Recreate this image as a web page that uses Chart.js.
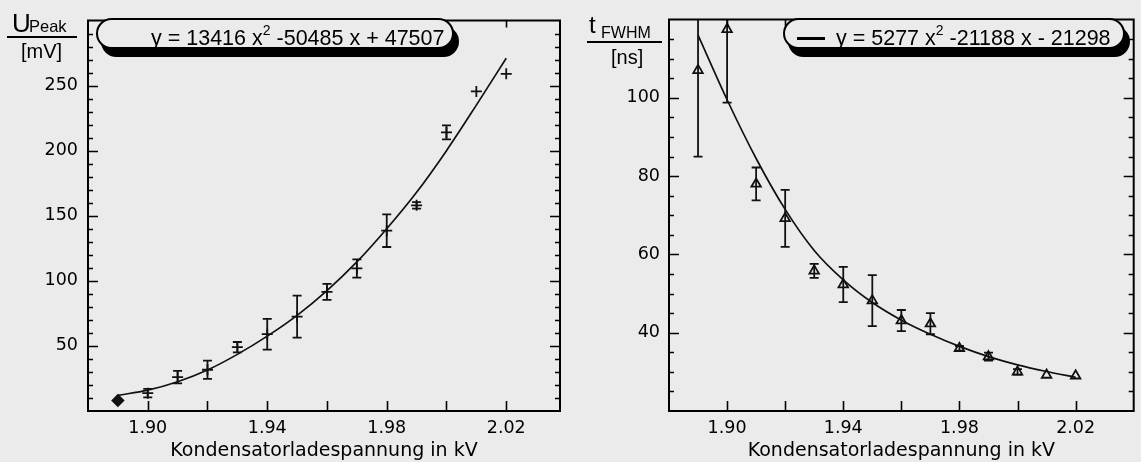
<!DOCTYPE html>
<html>
<head>
<meta charset="utf-8">
<script src="https://cdn.jsdelivr.net/npm/chart.js@4/dist/chart.umd.min.js"></script>
<style>
  body { margin: 0; width: 1141px; height: 462px; overflow: hidden; position: relative;
         background: #ebebeb; font-family: "Liberation Sans", Arial, sans-serif; color: #000; }
  canvas { position: absolute; top: 0; }
  #leftChart { left: 0; }
  #rightChart { left: 570px; }
  .lbl { position: absolute; white-space: nowrap; }
  .bar { position: absolute; height: 2px; background: #000; }
  .eq { position: absolute; box-sizing: border-box; height: 31px; border: 2px solid #000;
        border-radius: 16px; box-shadow: 5px 8px 0 #000; background: #ebebeb;
        font-size: 21.5px; line-height: 25px; white-space: nowrap; }
  .eq sup { font-size: 14px; position: relative; top: -2px; }
  .sample { display: inline-block; width: 28px; height: 3px; background: #000;
            vertical-align: middle; margin: 0 11px 0 12px; position: relative; top: -1px; }
</style>
</head>
<body>
<canvas id="leftChart" width="570" height="462"></canvas>
<canvas id="rightChart" width="571" height="462"></canvas>

<!-- y axis units -->
<div class="lbl" style="left:12px;top:10px;font-size:26px;line-height:26px">U</div>
<div class="lbl" style="left:29px;top:18px;font-size:16.5px;line-height:16px">Peak</div>
<div class="bar" style="left:7px;top:36px;width:70px"></div>
<div class="lbl" style="left:21px;top:41px;font-size:20px;line-height:20px">[mV]</div>

<div class="lbl" style="left:589px;top:13px;font-size:24px;line-height:24px">t</div>
<div class="lbl" style="left:601px;top:25px;font-size:16px;line-height:16px">FWHM</div>
<div class="bar" style="left:587px;top:41px;width:75px"></div>
<div class="lbl" style="left:611px;top:47px;font-size:20px;line-height:20px">[ns]</div>

<!-- fit equations -->
<div class="eq" style="left:96px;top:18px;width:358px;padding-left:53px">y = 13416 x<sup>2</sup> -50485 x + 47507</div>
<div class="eq" style="left:783px;top:18px;width:342px"><span class="sample"></span>y = 5277 x<sup>2</sup> -21188 x - 21298</div>

<script>
// charging voltage in kV (same for both panels)
const voltage = [1.89, 1.90, 1.91, 1.92, 1.93, 1.94, 1.95, 1.96, 1.97, 1.98, 1.99, 2.00, 2.01, 2.02];

// left panel: peak voltage [mV]
const uPeak    = [8, 13.7, 26, 31.7, 49, 59, 72.5, 91.5, 109.5, 138.5, 158, 214, 245.5, 259];
const uPeakErr = [0, 3.3, 4.8, 7, 4, 11.8, 16.2, 6.2, 7, 12.5, 2.5, 5.4, 0, 0];
const uFit     = [12, 16, 22.5, 31.5, 43.5, 57.5, 73.5, 92.5, 114.5, 140, 168, 200, 235, 271];

// right panel: FWHM [ns]
const tFwhm    = [107, 117.5, 78, 69.2, 55.8, 52.3, 48.2, 43.1, 42.3, 36, 33.9, 30, 29.2, 29];
const tFwhmErr = [22, 18.75, 4.2, 7.3, 1.8, 4.5, 6.5, 2.7, 2.7, 0.6, 1, 0.7, 0, 0];
const tFit     = [116, 99.5, 84.5, 71.5, 61, 53.5, 47.7, 43.2, 39.6, 36.5, 33.9, 31.8, 30.1, 28.6];

const xTickLabels = ['1.90', '1.94', '1.98', '2.02'];
const uTickLabels = [50, 100, 150, 200, 250];
const tTickLabels = [40, 60, 80, 100];

const xTitle = 'Kondensatorladespannung in kV';
const tickFont = { family: 'DejaVu Sans', size: 17.5 };
const titleFont = { family: 'DejaVu Sans', size: 19 };

function pts(ys) {
  return voltage.map((v, i) => ({ x: v, y: ys[i] }));
}

// error bars, clipped to the plot box
const errorBars = {
  id: 'errorBars',
  afterDatasetsDraw(chart) {
    const { ctx, chartArea: a, scales: { x, y } } = chart;
    ctx.save();
    ctx.beginPath();
    ctx.rect(a.left, a.top, a.right - a.left, a.bottom - a.top);
    ctx.clip();
    ctx.strokeStyle = '#111';
    ctx.lineWidth = 1.8;
    chart.data.datasets.forEach(ds => {
      if (!ds.errors) return;
      ds.data.forEach((p, i) => {
        const e = ds.errors[i];
        if (!e) return;
        const px = x.getPixelForValue(p.x);
        const top = y.getPixelForValue(p.y + e);
        const bot = y.getPixelForValue(p.y - e);
        ctx.beginPath();
        ctx.moveTo(px, top); ctx.lineTo(px, bot);
        ctx.moveTo(px - 4.5, top); ctx.lineTo(px + 4.5, top);
        ctx.moveTo(px - 4.5, bot); ctx.lineTo(px + 4.5, bot);
        ctx.stroke();
      });
    });
    ctx.restore();
  }
};

// box around the plot with inward ticks on all four sides
const frame = {
  id: 'frame',
  afterDraw(chart) {
    const { ctx, chartArea: a, scales: { x, y } } = chart;
    ctx.save();
    ctx.strokeStyle = '#000';
    ctx.lineWidth = 2;
    ctx.strokeRect(a.left, a.top, a.right - a.left, a.bottom - a.top);
    ctx.lineWidth = 1.6;
    ctx.beginPath();
    x.ticks.forEach(t => {
      if (t.value <= x.min + 1e-6 || t.value >= x.max - 1e-6) return;
      const px = Math.round(x.getPixelForValue(t.value)) + 0.5;
      ctx.moveTo(px, a.bottom); ctx.lineTo(px, a.bottom - 10);
      ctx.moveTo(px, a.top); ctx.lineTo(px, a.top + 7);
    });
    y.ticks.forEach(t => {
      if (t.value <= y.min || t.value >= y.max) return;
      const py = Math.round(y.getPixelForValue(t.value)) + 0.5;
      const len = t.label ? 10 : 5;
      ctx.moveTo(a.left, py); ctx.lineTo(a.left + len, py);
      ctx.moveTo(a.right, py); ctx.lineTo(a.right - len, py);
    });
    ctx.stroke();
    ctx.restore();
  }
};

function makeChart(id, cfg) {
  return new Chart(document.getElementById(id), {
    type: 'scatter',
    data: {
      datasets: [
        {
          data: pts(cfg.fit),
          showLine: true,
          borderColor: '#111',
          borderWidth: 1.7,
          pointRadius: 0,
          cubicInterpolationMode: 'monotone',
          clip: 0
        },
        {
          data: pts(cfg.values),
          errors: cfg.errors,
          pointStyle: cfg.marker,
          pointRadius: 5.5,
          borderColor: '#111',
          borderWidth: 1.8,
          backgroundColor: cfg.markerFill
        }
      ]
    },
    options: {
      responsive: false,
      animation: false,
      layout: { padding: cfg.padding },
      plugins: { legend: { display: false }, tooltip: { enabled: false } },
      scales: {
        x: {
          type: 'linear',
          min: 1.88,
          max: cfg.xMax,
          grid: { display: false, drawTicks: false },
          border: { display: false },
          ticks: {
            stepSize: 0.02,
            includeBounds: false,
            autoSkip: false,
            maxRotation: 0,
            padding: 7,
            color: '#000',
            font: tickFont,
            callback: v => xTickLabels.includes(v.toFixed(2)) ? v.toFixed(2) : ''
          },
          title: { display: true, text: xTitle, color: '#000', font: titleFont, padding: { top: 0, bottom: 0 } },
          afterFit: s => { s.height = 51; }
        },
        y: {
          min: cfg.yMin,
          max: cfg.yMax,
          grid: { display: false, drawTicks: false },
          border: { display: false },
          ticks: {
            stepSize: cfg.yStep,
            autoSkip: false,
            padding: cfg.yPad,
            color: '#000',
            font: tickFont,
            callback: v => cfg.yLabels.includes(v) ? String(v) : ''
          },
          afterFit: s => { s.width = cfg.yWidth; }
        }
      }
    },
    plugins: [errorBars, frame]
  });
}

makeChart('leftChart', {
  fit: uFit, values: uPeak, errors: uPeakErr,
  marker: ctx => ctx.dataIndex === 0 ? 'rectRot' : 'cross',
  markerFill: '#111',
  padding: { left: 0, right: 10, top: 11, bottom: 0 },
  xMax: 2.038, yMin: 0, yMax: 300, yStep: 10, yLabels: uTickLabels,
  yWidth: 88, yPad: 10
});

makeChart('rightChart', {
  fit: tFit, values: tFwhm, errors: tFwhmErr,
  marker: 'triangle',
  markerFill: '#ebebeb',
  padding: { left: 0, right: 2, top: 11, bottom: 0 },
  xMax: 2.04, yMin: 20, yMax: 120, yStep: 5, yLabels: tTickLabels,
  yWidth: 99, yPad: 9
});
</script>
</body>
</html>
